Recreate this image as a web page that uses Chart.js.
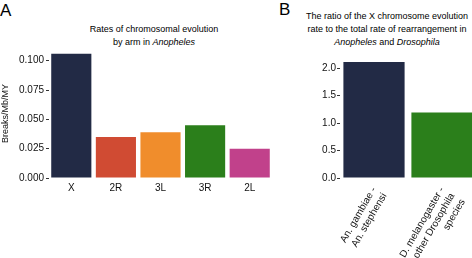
<!DOCTYPE html>
<html>
<head>
<meta charset="utf-8">
<script src="https://cdn.jsdelivr.net/npm/chart.js@4"></script>
<style>
  body { margin: 0; width: 472px; height: 258px; overflow: hidden; position: relative; background: #fff; font-family: "Liberation Sans", Arial, sans-serif; }
  .wrap { position: absolute; top: 0; height: 258px; }
  .letter { position: absolute; font-size: 17px; color: #000; line-height: 1; }
  .title { position: absolute; font-size: 9px; line-height: 13px; color: #000; text-align: center; white-space: nowrap; transform: translateX(-50%); }
</style>
</head>
<body>
<div class="letter" style="left:0px; top:2px;">A</div>
<div class="letter" style="left:279px; top:1px;">B</div>
<div class="title" style="left:154px; top:23px;">Rates of chromosomal evolution<br>by arm in <i>Anopheles</i></div>
<div class="title" style="left:387px; top:10px;">The ratio of the X chromosome evolution<br>rate to the total rate of rearrangement in<br><i>Anopheles</i> and <i>Drosophila</i></div>
<div class="wrap" style="left:0; width:280px;"><canvas id="chartA" width="280" height="258"></canvas></div>
<div class="wrap" style="left:290px; width:200px;"><canvas id="chartB" width="200" height="258"></canvas></div>
<script>
var armLabels = ['X', '2R', '3L', '3R', '2L'];
var armRates = [0.106, 0.035, 0.039, 0.045, 0.025];
var armColors = ['#222a45', '#d04b33', '#f08d2c', '#2b7f1b', '#c1418b'];
var armTicks = [0, 0.025, 0.05, 0.075, 0.1];

var ratioLabels = [['An. gambiae -', 'An. stephensi'], ['D. melanogaster -', 'other Drosophila', 'species']];
var ratioValues = [2.11, 1.19];
var ratioColors = ['#222a45', '#2b7f1b'];
var ratioTicks = [0, 0.5, 1, 1.5, 2];

Chart.defaults.font.family = '"Liberation Sans", Arial, sans-serif';
Chart.defaults.color = '#111';
Chart.defaults.animation = false;

new Chart(document.getElementById('chartA').getContext('2d'), {
    type: 'bar',
    data: {
        labels: armLabels,
        datasets: [{
            data: armRates,
            backgroundColor: armColors,
            barPercentage: 0.9,
            categoryPercentage: 1
        }]
    },
    options: {
        responsive: false,
        layout: { padding: { top: 49, right: 8, bottom: 0, left: 0 } },
        plugins: { legend: { display: false }, tooltip: { enabled: false } },
        scales: {
            x: {
                grid: { display: false, drawTicks: false },
                border: { display: false },
                ticks: { font: { size: 10 }, padding: 4 },
                afterFit: function(scale) { scale.height = 80; }
            },
            y: {
                min: 0,
                max: 0.11,
                grid: { drawOnChartArea: false, tickLength: 3, color: '#333' },
                border: { display: false },
                ticks: {
                    font: { size: 10 },
                    padding: 2,
                    callback: function(v) { return v.toFixed(3); }
                },
                afterBuildTicks: function(scale) {
                    scale.ticks = armTicks.map(function(v) { return { value: v }; });
                },
                title: { display: true, text: 'Breaks/Mb/MY', font: { size: 9 }, padding: 0 },
                afterFit: function(scale) { scale.width = 49; }
            }
        }
    }
});

new Chart(document.getElementById('chartB').getContext('2d'), {
    type: 'bar',
    data: {
        labels: ratioLabels,
        datasets: [{
            data: ratioValues,
            backgroundColor: ratioColors,
            barPercentage: 0.9,
            categoryPercentage: 1
        }]
    },
    options: {
        responsive: false,
        layout: { padding: { top: 57, right: 14, bottom: 0, left: 0 } },
        plugins: { legend: { display: false }, tooltip: { enabled: false } },
        scales: {
            x: {
                grid: { display: false, drawTicks: false },
                border: { display: false },
                ticks: { font: { size: 10 }, minRotation: 60, maxRotation: 60, autoSkip: false, padding: 7 },
                afterFit: function(scale) { scale.height = 80; }
            },
            y: {
                min: 0,
                max: 2.2,
                grid: { drawOnChartArea: false, tickLength: 3, color: '#333' },
                border: { display: false },
                ticks: {
                    font: { size: 10 },
                    padding: 1,
                    callback: function(v) { return v.toFixed(1); }
                },
                afterBuildTicks: function(scale) {
                    scale.ticks = ratioTicks.map(function(v) { return { value: v }; });
                },
                afterFit: function(scale) { scale.width = 50; }
            }
        }
    }
});
</script>
</body>
</html>
